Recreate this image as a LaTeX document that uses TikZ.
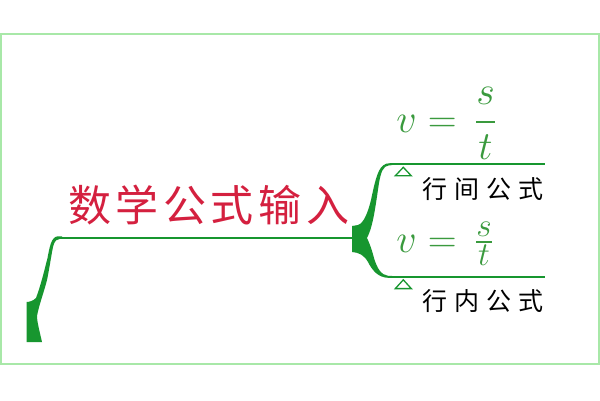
\documentclass[tikz,border=0pt]{standalone}
\usepackage{amsmath}
\usepackage{fontspec}
\newfontfamily\cjk{Noto Sans CJK SC}
\definecolor{conngreen}{HTML}{17962F}
\definecolor{mathgreen}{HTML}{3A9A3E}
\definecolor{titlered}{HTML}{D4203F}
\definecolor{framegreen}{HTML}{A8E8A8}
\tikzset{
  conn/.style={draw=conngreen, line width=2pt},
  connfill/.style={fill=conngreen},
  marker/.style={draw=conngreen, line width=1.3pt, line join=miter},
  titletext/.style={inner sep=0pt, anchor=base west, text=titlered, font=\cjk\fontsize{43}{50}\selectfont},
  labeltext/.style={inner sep=0pt, anchor=base west, text=black, font=\cjk\fontsize{25}{30}\selectfont},
  mathtext/.style={inner sep=0pt, anchor=base west, text=mathgreen, font=\Huge, scale=1.608},
}
\begin{document}
\begin{tikzpicture}[x=1pt,y=-1pt]
\useasboundingbox (0,0) rectangle (600,400);
\fill[white] (0,0) rectangle (600,400);
\draw[framegreen, line width=2pt] (1,34.2) rectangle (598.7,364.3);

% named points of the connectors
\coordinate (mainL) at (60,237.5);
\coordinate (mainR) at (352.5,237.5);
\coordinate (topL) at (390,164.2);
\coordinate (topR) at (545,164.2);
\coordinate (botL) at (390,276.8);
\coordinate (botR) at (545,276.8);

% left fish tail
\fill[connfill] (62,236.3) -- (58,236.3)
  .. controls (51,236.5) and (49.5,248) .. (47.5,258)
  .. controls (44,272) and (40.5,286) .. (36,298)
  .. controls (33,301) and (29,302) .. (26.5,302)
  -- (26.5,342) -- (42,342)
  .. controls (40,333) and (37,322) .. (37,316)
  .. controls (39,305) and (44,292) .. (47,280)
  .. controls (49.5,268) and (51.5,254) .. (53,247)
  .. controls (54.5,240.5) and (57,238.8) .. (60,238.8)
  -- (62,238.8) -- cycle;

% main line
\draw[conn] (mainL) -- (mainR);

% right junction
\fill[connfill] (352,226) -- (358,225)
  .. controls (364,223) and (368,212) .. (371,200)
  .. controls (374,186) and (377,170) .. (383,165.5)
  .. controls (385,163.8) and (387,163.2) .. (390,163.2)
  -- (392,163.2) -- (392,165.2) -- (389,165.3)
  .. controls (383,166) and (381,172) .. (379,183)
  .. controls (377,196) and (375,212) .. (372,224)
  .. controls (370,232) and (368,236) .. (367,238)
  .. controls (369,242) and (372,250) .. (374,258)
  .. controls (377,268) and (381,275) .. (388,275.8)
  -- (392,275.8) -- (392,277.8) -- (388,277.8)
  .. controls (378,277.5) and (372,270) .. (368,262)
  .. controls (364,255) and (359,252.5) .. (352,252) -- cycle;

% branch lines
\draw[conn] (topL) -- (topR);
\draw[conn] (botL) -- (botR);

% markers
\draw[marker] (403.3,167.3) -- (411.3,175.8) -- (395.3,175.8) -- cycle;
\draw[marker] (403.3,279.8) -- (411.3,288.6) -- (395.3,288.6) -- cycle;

% texts
\node[titletext] (root) at (68,221.5) {数\hspace{4.6pt}学\hspace{4.6pt}公\hspace{4.6pt}式\hspace{4.6pt}输\hspace{4.6pt}入};
\node[labeltext] (lab1) at (422,198) {行\hspace{7pt}间\hspace{7pt}公\hspace{7pt}式};
\node[labeltext] (lab2) at (422,310) {行\hspace{7pt}内\hspace{7pt}公\hspace{7pt}式};
\node[mathtext] (f1) at (396,132) {$\displaystyle v=\,\frac{s}{t}$};
\node[mathtext] (f2) at (396,252) {$v=\,\frac{s}{t}$};
\end{tikzpicture}
\end{document}
